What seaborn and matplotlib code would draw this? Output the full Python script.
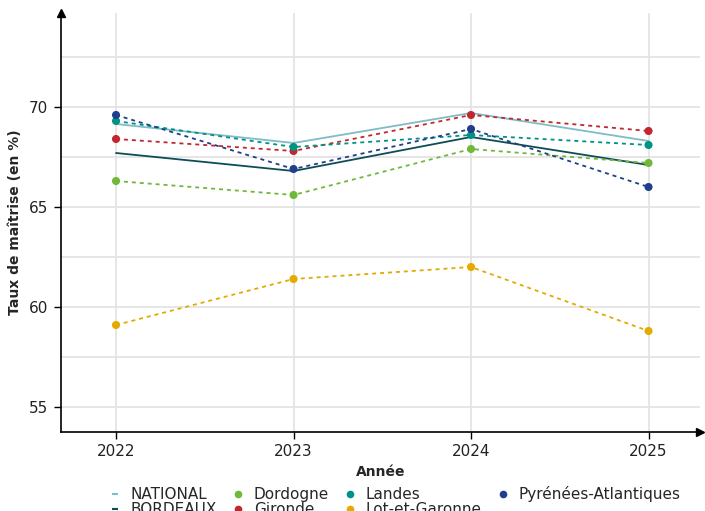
import matplotlib
matplotlib.use("Agg")
import matplotlib.pyplot as plt
from matplotlib.lines import Line2D
import seaborn as sns
import pandas as pd

years = [2022, 2023, 2024, 2025]
national = [69.15, 68.2, 69.7, 68.3]
bordeaux = [67.7, 66.8, 68.5, 67.1]
dordogne = [66.3, 65.6, 67.9, 67.2]
gironde = [68.4, 67.8, 69.6, 68.8]
landes = [69.3, 68.0, 68.6, 68.1]
lot_et_garonne = [59.1, 61.4, 62.0, 58.8]
pyrenees_atl = [69.6, 66.9, 68.9, 66.0]

series_names = ["NATIONAL", "BORDEAUX", "Dordogne", "Gironde", "Landes",
                "Lot-et-Garonne", "Pyrénées-Atlantiques"]
series_values = [national, bordeaux, dordogne, gironde, landes,
                 lot_et_garonne, pyrenees_atl]
colors = {
    "NATIONAL": "#7fbcc6",
    "BORDEAUX": "#0d4d57",
    "Dordogne": "#6fb83a",
    "Gironde": "#c1272d",
    "Landes": "#009384",
    "Lot-et-Garonne": "#e3aa00",
    "Pyrénées-Atlantiques": "#1f3e8c",
}
departments = series_names[2:]

rows = []
for name, vals in zip(series_names, series_values):
    for y, v in zip(years, vals):
        rows.append({"Année": y, "val": v, "serie": name})
df = pd.DataFrame(rows)

sns.set_theme(style="white")
plt.rcParams["font.family"] = ["DejaVu Sans"]

fig = plt.figure(figsize=(7.05, 5.11), dpi=100)
ax = fig.add_axes([61 / 705, 1 - 432 / 511, (700 - 61) / 705, (432 - 13) / 511])

dashes = {n: "" for n in ["NATIONAL", "BORDEAUX"]}
dashes.update({n: (2.2, 2.2) for n in departments})

sns.lineplot(data=df, x="Année", y="val", hue="serie", style="serie",
             hue_order=series_names, style_order=series_names,
             palette=colors, dashes=dashes, linewidth=1.3, legend=False, ax=ax)
sns.scatterplot(data=df[df["serie"].isin(departments)], x="Année", y="val",
                hue="serie", hue_order=departments, palette=colors, s=34,
                linewidth=0, legend=False, ax=ax, zorder=5)

ax.set_xlim(2021.69, 2025.29)
ax.set_ylim(53.75, 74.7)
ax.set_xticks(years)
ax.set_xticklabels([str(y) for y in years])
ax.set_yticks([55, 60, 65, 70])
ax.set_yticks([57.5, 62.5, 67.5, 72.5], minor=True)
ax.grid(True, which="major", color="#e2e2e2", linewidth=1.2)
ax.grid(True, which="minor", axis="y", color="#e2e2e2", linewidth=1.2)
ax.set_axisbelow(True)
for s in ["top", "right"]:
    ax.spines[s].set_visible(False)
for s in ["left", "bottom"]:
    ax.spines[s].set_color("black")
    ax.spines[s].set_linewidth(1.2)
ax.tick_params(axis="both", which="major", direction="out", length=5, width=1,
               color="black", labelsize=11, labelcolor="#222222", pad=4,
               bottom=True, left=True)
ax.tick_params(axis="y", which="minor", length=0)

# axis arrows
ax.plot(1, 0, ">", color="black", markersize=6, transform=ax.transAxes, clip_on=False)
ax.plot(0, 1, "^", color="black", markersize=6, transform=ax.transAxes, clip_on=False)

ax.set_xlabel("Année", fontsize=10, fontweight="bold", labelpad=4)
ax.set_ylabel("Taux de maîtrise (en %)", fontsize=10, fontweight="bold", labelpad=5)

handles = []
for n in series_names:
    if n in departments:
        handles.append(Line2D([], [], color=colors[n], marker="o", markersize=5.5,
                              linestyle="none", markeredgewidth=0))
    else:
        handles.append(Line2D([], [], color=colors[n], marker="_", markersize=4,
                              linestyle="none", markeredgewidth=1.5))
fig.legend(handles, series_names, loc="upper center", ncol=4,
           bbox_to_anchor=(0.56, 0.048), frameon=False, fontsize=11,
           handlelength=0.8, handletextpad=0.6, columnspacing=1.0,
           labelspacing=0.0, borderpad=0, borderaxespad=0)

fig.savefig("out.png", dpi=100)
